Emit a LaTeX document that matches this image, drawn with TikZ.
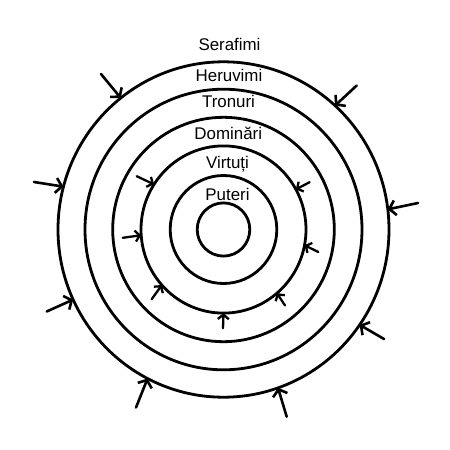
\documentclass[tikz,border=0pt]{standalone}
\usepackage{fontspec}
\setmainfont{Liberation Sans}
\usetikzlibrary{shapes.geometric,arrows.meta}
\tikzset{
  ring/.style={draw, ellipse, line width=2.8pt, inner sep=0pt, outer sep=0pt},
  outarrow/.style={line width=2.6pt, line cap=round, -{Straight Barb[length=6pt,width=15pt]}},
  inarrow/.style={line width=2.3pt, line cap=round, -{Straight Barb[length=4.5pt,width=11pt]}},
  lab/.style={font=\fontsize{16.9}{20}\selectfont, anchor=base, inner sep=0pt}
}
\begin{document}
\begin{tikzpicture}[x=1pt,y=-1pt]
\useasboundingbox (0,0) rectangle (450,450);
\coordinate (O) at (223.5,229.5);
\node[ring, minimum width=331pt, minimum height=335.4pt] (c6) at (O) {};
\node[ring, minimum width=277pt, minimum height=280.6pt] (c5) at (O) {};
\node[ring, minimum width=221.6pt, minimum height=224.4pt] (c4) at (O) {};
\node[ring, minimum width=165pt, minimum height=167.2pt] (c3) at (O) {};
\node[ring, minimum width=106.6pt, minimum height=108pt] (c2) at (O) {};
\node[ring, minimum width=52.6pt, minimum height=53.2pt] (c1) at (O) {};
% labels
\node[lab] (serafimi) at (229.5,50) {Serafimi};
\node[lab] (heruvimi) at (229,81) {Heruvimi};
\node[lab] (tronuri) at (228.5,107.3) {Tronuri};
\node[lab] (dominari) at (228.3,139.3) {Dominări};
\node[lab] (virtuti) at (227.5,168.3) {Virtuți};
\node[lab] (puteri) at (227.5,200) {Puteri};
% outer arrow starts
\coordinate (o1) at (101,74);
\coordinate (o2) at (34,182);
\coordinate (o3) at (46.7,311.5);
\coordinate (o4) at (136,407.5);
\coordinate (o5) at (286.7,416.7);
\coordinate (o6) at (384,339);
\coordinate (o7) at (418,203);
\coordinate (o8) at (356.7,85.5);
\draw[outarrow] (o1) -- (c6.128.3);
\draw[outarrow] (o2) -- (c6.165.8);
\draw[outarrow] (o3) -- (c6.205);
\draw[outarrow] (o4) -- (c6.243.7);
\draw[outarrow] (o5) -- (c6.289.2);
\draw[outarrow] (o6) -- (c6.325.6);
\draw[outarrow] (o7) -- (c6.7.8);
\draw[outarrow] (o8) -- (c6.48.1);
% inner arrow starts
\coordinate (i1) at (136.7,176.2);
\coordinate (i2) at (122.7,237.8);
\coordinate (i3) at (151.7,299.2);
\coordinate (i4) at (223,328.3);
\coordinate (i5) at (285,305.5);
\coordinate (i6) at (318.3,252);
\coordinate (i7) at (309.6,182.2);
\draw[inarrow] (i1) -- (c3.147.3);
\draw[inarrow] (i2) -- (c3.184.2);
\draw[inarrow] (i3) -- (c3.222.3);
\draw[inarrow] (i4) -- (c3.270);
\draw[inarrow] (i5) -- (c3.310.1);
\draw[inarrow] (i6) -- (c3.349);
\draw[inarrow] (i7) -- (c3.29.4);
\end{tikzpicture}
\end{document}
